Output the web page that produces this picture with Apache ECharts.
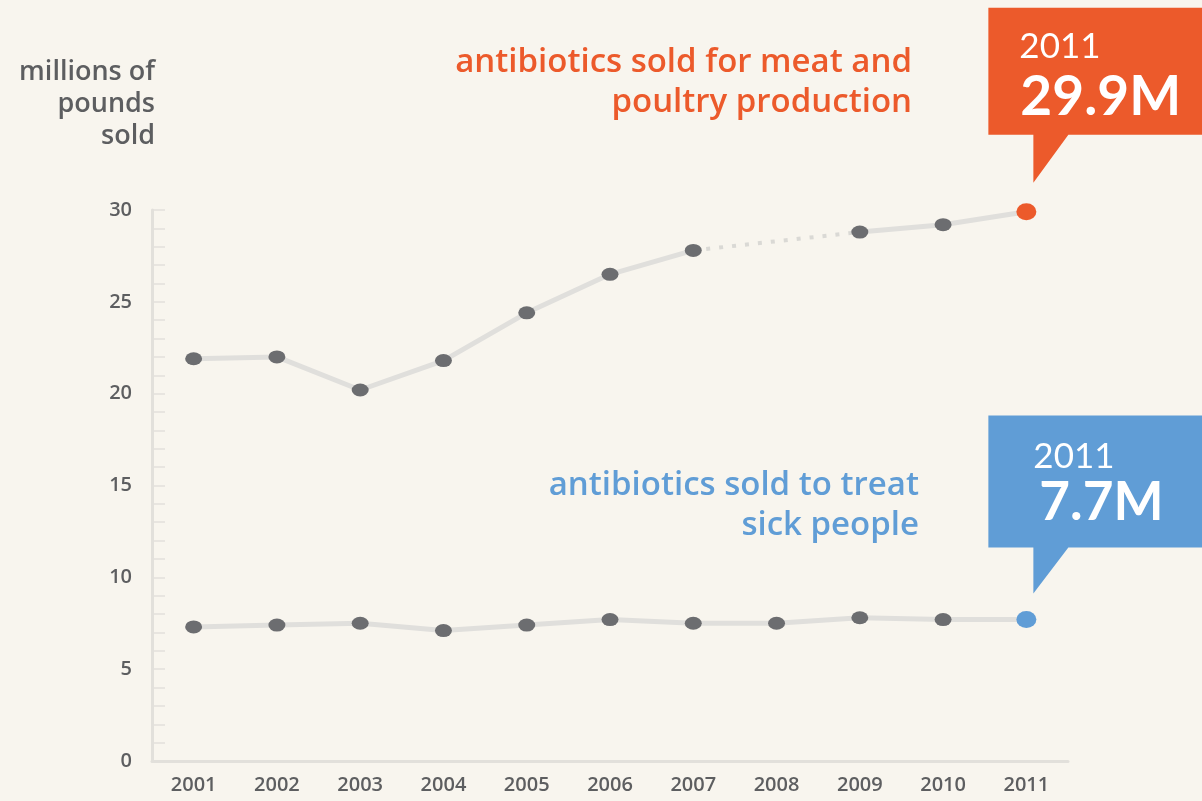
<!DOCTYPE html>
<html>
<head>
<meta charset="utf-8">
<script src="https://cdn.jsdelivr.net/npm/echarts@6/dist/echarts.min.js"></script>
<style>
  html, body { margin: 0; padding: 0; background: #f8f5ee; }
  #chart { width: 1202px; height: 801px; }
</style>
</head>
<body>
<div id="chart"></div>
<script>
// ---- data ----
var years = ['2001','2002','2003','2004','2005','2006','2007','2008','2009','2010','2011'];
var meatPoultry = [21.9, 22.0, 20.2, 21.8, 24.4, 26.5, 27.8, null, 28.8, 29.2, 29.9];
var sickPeople  = [7.3, 7.4, 7.5, 7.1, 7.4, 7.7, 7.5, 7.5, 7.8, 7.7, 7.7];
var yTicks = [0, 5, 10, 15, 20, 25, 30];

var ORANGE = '#ec5a2b';
var BLUE = '#609dd6';
var DOT = '#6c6d70';
var LINE = '#e0dfdc';
var FONT = '"Open Sans", Lato, sans-serif';
var BOXFONT = 'Lato, "Open Sans", sans-serif';

function styledData(arr, accent) {
  return arr.map(function (v, i) {
    if (i === arr.length - 1) {
      return { value: v, symbolSize: [20, 17], itemStyle: { color: accent } };
    }
    return v;
  });
}
// gap bridge (dotted) between the last known values around a missing year
function gapBridge(arr) {
  var out = arr.map(function () { return null; });
  for (var i = 1; i < arr.length - 1; i++) {
    if (arr[i] === null) { out[i - 1] = arr[i - 1]; out[i + 1] = arr[i + 1]; }
  }
  return out;
}

function callout(boxH, tipY) {
  return 'path://M0 0 L230 0 L230 ' + boxH + ' L80 ' + boxH + ' L45 ' + tipY + ' L45 ' + boxH + ' L0 ' + boxH + ' Z';
}

var last = years.length - 1;

var chart = echarts.init(document.getElementById('chart'));
chart.setOption({
  backgroundColor: '#f8f5ee',
  animation: false,
  textStyle: { fontFamily: FONT },
  grid: { left: 152, right: 134, top: 210, bottom: 40 },
  xAxis: {
    type: 'category',
    data: years,
    boundaryGap: true,
    axisLine: { lineStyle: { color: '#e2e0db', width: 3 } },
    axisTick: { show: false },
    axisLabel: { color: '#5d5e60', fontSize: 20, fontWeight: 600, margin: 14, fontFamily: FONT }
  },
  yAxis: {
    type: 'value',
    min: yTicks[0],
    max: yTicks[yTicks.length - 1],
    interval: 5,
    splitLine: { show: false },
    axisLine: { show: true, lineStyle: { color: '#e2e0db', width: 3 } },
    axisTick: { show: true, inside: true, length: 13, lineStyle: { color: '#e2e0db', width: 1.5 } },
    minorTick: { show: true, splitNumber: 5, length: 13, lineStyle: { color: '#e2e0db', width: 1.5 } },
    axisLabel: { color: '#5d5e60', fontSize: 20, fontWeight: 600, margin: 20, fontFamily: FONT }
  },
  series: [
    {
      type: 'line',
      data: gapBridge(meatPoultry),
      connectNulls: true,
      showSymbol: false,
      silent: true,
      z: 1,
      lineStyle: { color: '#dad9d5', width: 4, type: [4, 9] }
    },
    {
      type: 'line',
      data: styledData(meatPoultry, ORANGE),
      connectNulls: false,
      symbol: 'circle',
      symbolSize: [17, 13],
      itemStyle: { color: DOT },
      lineStyle: { color: LINE, width: 5 },
      z: 2,
      markPoint: {
        silent: true,
        symbol: callout(127, 175),
        symbolSize: [230, 175],
        symbolOffset: [77, -116.5],
        itemStyle: { color: ORANGE },
        label: {
          show: true,
          position: [31, 16],
          align: 'left',
          formatter: function (p) {
            return '{y|' + years[last] + '}\n{v|' + p.value + 'M}';
          },
          rich: {
            y: { color: '#fff', fontSize: 35, fontFamily: BOXFONT, lineHeight: 46 },
            v: { color: '#fff', fontSize: 55, fontWeight: 'bold', fontFamily: BOXFONT, lineHeight: 54, padding: [0, 0, 0, 1] }
          }
        },
        data: [{ coord: [years[last], meatPoultry[last]], value: meatPoultry[last] }]
      }
    },
    {
      type: 'line',
      data: styledData(sickPeople, BLUE),
      symbol: 'circle',
      symbolSize: [17, 13],
      itemStyle: { color: DOT },
      lineStyle: { color: LINE, width: 5 },
      z: 2,
      markPoint: {
        silent: true,
        symbol: callout(132, 178),
        symbolSize: [230, 178],
        symbolOffset: [77, -115],
        itemStyle: { color: BLUE },
        label: {
          show: true,
          position: [45, 20],
          align: 'left',
          formatter: function (p) {
            return '{y|' + years[last] + '}\n{v|' + p.value + 'M}';
          },
          rich: {
            y: { color: '#fff', fontSize: 35, fontFamily: BOXFONT, lineHeight: 42 },
            v: { color: '#fff', fontSize: 53, fontWeight: 'bold', fontFamily: BOXFONT, lineHeight: 50, padding: [0, 0, 0, 6] }
          }
        },
        data: [{ coord: [years[last], sickPeople[last]], value: sickPeople[last] }]
      }
    }
  ],
  graphic: [
    {
      type: 'text', x: 155, y: 56,
      style: { text: 'millions of\npounds\nsold', align: 'right', verticalAlign: 'top',
               font: '600 27px ' + FONT, lineHeight: 32, fill: '#5d5e60' }
    },
    {
      type: 'text', x: 912, y: 43,
      style: { text: 'antibiotics sold for meat and\npoultry production', align: 'right', verticalAlign: 'top',
               font: '600 33px ' + FONT, lineHeight: 40, fill: ORANGE }
    },
    {
      type: 'text', x: 919, y: 466,
      style: { text: 'antibiotics sold to treat\nsick people', align: 'right', verticalAlign: 'top',
               font: '600 33px ' + FONT, lineHeight: 40, fill: BLUE }
    }
  ]
});
</script>
</body>
</html>
